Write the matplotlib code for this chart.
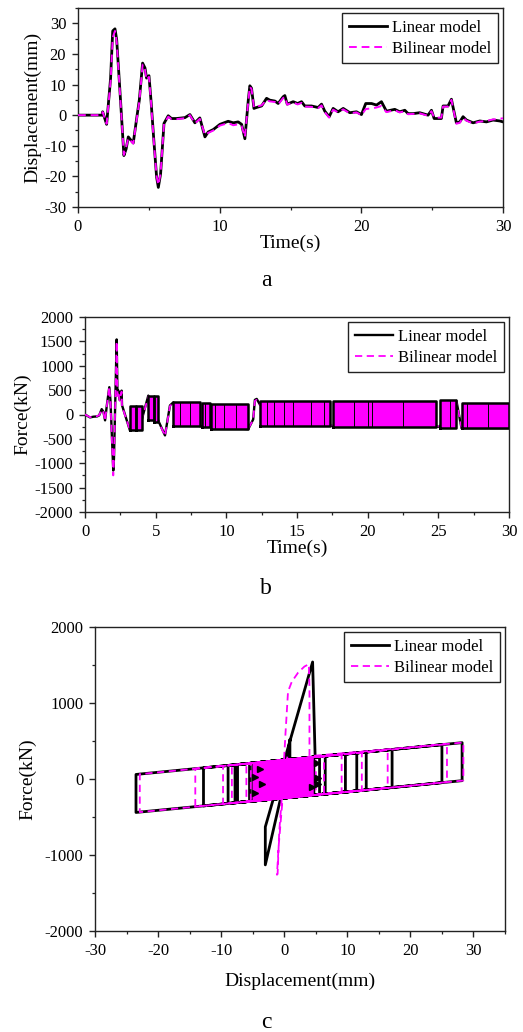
import matplotlib
matplotlib.use("Agg")
import matplotlib.pyplot as plt
from matplotlib.ticker import MultipleLocator

plt.rcParams['font.family'] = ['Liberation Serif', 'DejaVu Serif']
plt.rcParams['axes.unicode_minus'] = False

# ---------------- Panel a : displacement time history ----------------
t_a = [0, 1.7, 1.74, 2.02, 2.3, 2.45, 2.61, 2.73, 3.0, 3.24,
       3.4, 3.55, 3.74, 3.9, 4.14, 4.33, 4.56, 4.73, 4.84, 5.01,
       5.15, 5.35, 5.55, 5.67, 5.83, 6.07, 6.37, 6.6, 6.96, 7.55,
       7.9, 8.25, 8.6, 8.96, 9.19, 9.55, 10.02, 10.6, 10.96, 11.31,
       11.55, 11.78, 12.02, 12.13, 12.25, 12.42, 12.6, 12.96, 13.31, 13.54,
       13.9, 14.13, 14.48, 14.6, 14.77, 15.19, 15.5, 15.78, 16.01, 16.48,
       16.95, 17.19, 17.42, 17.73, 18.01, 18.36, 18.72, 19.19, 19.66, 20.01,
       20.31, 20.72, 21.07, 21.42, 21.77, 22.36, 22.71, 23.07, 23.3, 23.65,
       24.12, 24.71, 24.95, 25.14, 25.65, 25.77, 26.12, 26.36, 26.47, 26.71,
       26.95, 27.18, 27.42, 27.89, 28.36, 28.83, 29.3, 29.77, 30]
disp_lin = [0, 0, 1.1, -3, 12, 27.5, 28.2, 24.7, 5, -13.2,
            -11, -7.1, -8.2, -9.1, -1.1, 5, 17, 15.4, 12.1, 12.9,
            5, -8, -20.3, -23.6, -19.2, -2.7, -0.2, -1.1, -1.1, -0.8,
            0.2, -2.5, -0.9, -7.1, -5.5, -4.7, -3, -2, -2.5, -2.2,
            -3, -7.7, 4.9, 9.6, 8.8, 2.2, 2.5, 3, 5.5, 4.9,
            4.6, 3.8, 6, 6.4, 3.6, 4.4, 3.8, 4.4, 3, 3,
            2.5, 3.6, 1.3, -0.5, 2.2, 1.1, 2.2, 0.8, 1.1, 0.2,
            3.8, 3.8, 3.3, 4.4, 1.3, 1.9, 1.1, 1.6, 0.5, 0.5,
            0.8, 0, 1.6, -1.1, -1.1, 3, 3, 5.2, 2.7, -2.5,
            -2.2, -0.5, -1.6, -2.5, -1.9, -2.2, -1.6, -1.9, -2.2]
disp_bil = [0, 0, 1.0, -2.8, 11, 25.3, 27.5, 24, 4.5, -13.0,
            -10.5, -7.5, -8.5, -9.3, -1.5, 4.5, 16.5, 14.8, 11.5, 12.5,
            4.5, -8.5, -20.0, -22.8, -19.0, -2.9, -0.5, -1.3, -1.3, -1.0,
            0, -2.7, -1.2, -6.5, -5.8, -5.0, -3.4, -2.6, -3.3, -3.0,
            -3.5, -7.2, 4.5, 9.3, 8.5, 2.5, 2.8, 3.2, 5.0, 4.5,
            4.3, 3.5, 5.6, 6.0, 3.4, 4.2, 3.5, 4.0, 2.8, 2.7,
            2.3, 3.2, 1.0, -0.8, 1.8, 0.9, 1.9, 0.6, 0.9, 0.0,
            2.0, 2.2, 2.5, 3.0, 1.0, 1.6, 0.9, 1.3, 0.3, 0.4,
            0.6, -0.2, 1.3, -0.8, -0.8, 2.8, 2.8, 5.0, 2.4, -2.8,
            -2.5, -0.8, -1.8, -2.7, -2.1, -1.9, -1.4, -1.2, -1.0]

# ---------------- Panel b : force time history ----------------
t_b = [0, 0.35, 0.6, 0.85, 1.0, 1.18, 1.3, 1.42, 1.55, 1.72,
       1.8, 2.0, 2.05, 2.24, 2.3, 2.36, 2.45, 2.59, 2.62, 3.18,
       4.0, 4.48, 5.18, 5.66, 6.01, 6.25, 8.13, 8.25, 11.55, 11.9,
       12.02, 12.15, 12.38, 17.33, 17.56, 24.87, 25.1, 26.28, 26.64, 30]
force_lin = [0, -60, -45, -40, -20, 110, 60, -120, 200, 560,
             300, -1150, -900, 1540, 400, 490, 300, 490, 190, -327,
             -122, 388, -122, -429, 184, 250, -240, -240, -300, -100,
             300, 320, 200, -230, -240, -250, -250, 280, -280, -280]
force_bil = [0, -55, -40, -35, -15, 100, 50, -130, 190, 570,
             280, -1250, -950, 1500, 380, 470, 280, 470, 170, -320,
             -130, 370, -130, -440, 170, 240, -230, -230, -290, -110,
             280, 300, 190, -220, -230, -240, -240, 270, -270, -270]

# dense cycling blocks (start, end, upper, lower)
blk_t0 = [3.18, 3.6, 4.48, 4.85, 6.25, 8.25, 8.9, 12.38, 17.56, 25.1, 26.64]
blk_t1 = [3.6, 4.0, 4.85, 5.18, 8.13, 8.85, 11.55, 17.33, 24.87, 26.28, 30.0]
blk_hi = [184, 184, 388, 370, 250, 240, 220, 280, 270, 290, 240]
blk_lo = [-327, -327, -122, -150, -240, -260, -300, -230, -250, -280, -280]
inner_t = [6.7, 7.4, 8.5, 9.2, 9.8, 10.7, 12.9, 13.4, 14.1, 14.7,
           16.0, 16.9, 19.0, 20.0, 20.3, 22.5, 25.8, 27.0, 28.5]
inner_hi = [250, 250, 240, 220, 220, 220, 280, 280, 280, 280,
            280, 280, 270, 270, 270, 270, 290, 240, 240]
inner_lo = [-240, -240, -260, -300, -300, -300, -230, -230, -230, -230,
            -230, -230, -250, -250, -250, -250, -280, -280, -280]

# ---------------- Panel c : hysteresis ----------------
disp_c_lin = [0, 0.9, 0.9, -3.0, -3.0, 4.5, 4.9, 28.2, 28.2, -12.8,
              -12.8, 25.0, 25.0, -23.5, -23.5, 17.1, 17.1, -8.9, -8.9, 13.0,
              13.0, -7.8, -7.8, 11.5, 11.5, -7.4, -7.4, 9.7, 9.7, -5.5,
              -5.5, 6.5, 6.5, -5.0, -5.0, 5.6, 5.6, -4.4, -4.4, 4.7,
              4.7, -3.5, -3.5, 3.5, 3.5, 0]
force_c_lin = [0, 520, 280, -1130, -630, 1540, 290, 478, -22, -354,
               146, 452, -48, -440, 60, 389, -111, -322, 178, 355,
               -145, -313, 187, 343, -157, -310, 190, 329, -171, -295,
               205, 303, -197, -290, 210, 295, -205, -286, 214, 288,
               -212, -278, 222, 278, -222, 0]
disp_c_bil = [0, 0.5, -0.3, -0.9, -1.15, -1.05, -0.8, -0.3, 0.2, 0.6,
              1.2, 2.2, 3.2, 3.9, 4.0, 4.0, 28.4, 28.4, -14.1, -14.1,
              25.8, 25.8, -22.9, -22.9, 16.4, 16.4, -9.7, -9.7, 12.3, 12.3,
              -8.3, -8.3, 9.1, 9.1, -6.0, -6.0, 6.3, 6.3, -5.3, -5.3,
              5.0, 5.0]
force_c_bil = [0, 300, -300, -900, -1260, -1250, -700, -150, 600, 1150,
               1280, 1400, 1480, 1510, 1200, 300, 480, -20, -364, 136,
               459, -41, -436, 64, 383, -117, -329, 171, 350, -150,
               -317, 183, 324, -176, -299, 201, 301, -199, -293, 207,
               291, -209]
band_x = [-5.1, 4.6]
band_top = [209, 287]
band_bot = [-291, -213]
tri_x = [-4.6, -3.8, -3.5, -4.6, 4.4, 5.2, 5.4, 5.3]
tri_f = [22, 127, -66, -189, -101, 206, 9, -60]

MAG = '#FF00FF'
W, H = 523, 1032
fig = plt.figure(figsize=(W / 100, H / 100), dpi=100)


def ax_at(l, r, t, b):
    return fig.add_axes([l / W, 1 - b / H, (r - l) / W, (b - t) / H])


def style(ax):
    for s in ax.spines.values():
        s.set_color('#222222')
        s.set_linewidth(1.0)
    ax.tick_params(which='both', direction='out', top=False, right=False,
                   labelsize=12, color='#222222')
    ax.tick_params(which='major', length=4.5, width=1.0, pad=4)
    ax.tick_params(which='minor', length=2.5, width=0.9)


def legend(ax):
    lg = ax.legend(loc='upper right', fontsize=12, frameon=True, fancybox=False,
                   edgecolor='#222222', framealpha=1, borderaxespad=0.3,
                   handlelength=2.3, handletextpad=0.3, borderpad=0.4,
                   labelspacing=0.3)
    lg.get_frame().set_linewidth(1.0)


# ---- a ----
ax = ax_at(78, 503, 8, 207)
ax.plot(t_a, disp_lin, color='black', lw=2.0, label='Linear model', zorder=2)
ax.plot(t_a, disp_bil, color=MAG, lw=1.4, ls=(0, (4, 2.5)), label='Bilinear model', zorder=3)
ax.set_xlim(0, 30)
ax.set_ylim(-30, 35)
ax.xaxis.set_major_locator(MultipleLocator(10))
ax.xaxis.set_minor_locator(MultipleLocator(5))
ax.yaxis.set_major_locator(MultipleLocator(10))
ax.yaxis.set_minor_locator(MultipleLocator(5))
style(ax)
ax.set_xlabel('Time(s)', fontsize=14, labelpad=0)
ax.set_ylabel('Displacement(mm)', fontsize=14, labelpad=2)
legend(ax)
fig.text(266 / W, 1 - 280 / H, 'a', fontsize=17, ha='center', va='center')

# ---- b ----
ax = ax_at(85, 509, 317, 512)
ax.plot(t_b, force_lin, color='black', lw=1.7, label='Linear model', zorder=2)
ax.plot(t_b, force_bil, color=MAG, lw=1.3, ls=(0, (4, 2.5)), label='Bilinear model', zorder=3)
for t0, t1, hi, lo in zip(blk_t0, blk_t1, blk_hi, blk_lo):
    ax.fill_between([t0, t1], [lo, lo], [hi, hi], color=MAG, lw=0, zorder=3.5)
    ax.plot([t0, t0, t1, t1, t0], [lo, hi, hi, lo, lo], color='black', lw=1.8, zorder=4)
ax.vlines(inner_t, inner_lo, inner_hi, color='black', lw=0.7, zorder=4)
ax.set_xlim(0, 30)
ax.set_ylim(-2000, 2000)
ax.xaxis.set_major_locator(MultipleLocator(5))
ax.xaxis.set_minor_locator(MultipleLocator(2.5))
ax.yaxis.set_major_locator(MultipleLocator(500))
ax.yaxis.set_minor_locator(MultipleLocator(250))
style(ax)
ax.set_xlabel('Time(s)', fontsize=14, labelpad=0)
ax.set_ylabel('Force(kN)', fontsize=14, labelpad=2)
legend(ax)
fig.text(266 / W, 1 - 588 / H, 'b', fontsize=17, ha='center', va='center')

# ---- c ----
ax = ax_at(95, 505, 627, 931)
ax.plot(disp_c_lin, force_c_lin, color='black', lw=2.0, label='Linear model', zorder=2)
ax.plot(disp_c_bil, force_c_bil, color=MAG, lw=1.3, ls=(0, (4, 2.5)), label='Bilinear model', zorder=3)
ax.fill_between(band_x, band_bot, band_top, color=MAG, lw=0, zorder=3.5)
ax.plot(tri_x, tri_f, ls='none', marker='>', ms=5, color='black', zorder=4)
ax.set_xlim(-30, 35)
ax.set_ylim(-2000, 2000)
ax.xaxis.set_major_locator(MultipleLocator(10))
ax.xaxis.set_minor_locator(MultipleLocator(5))
ax.yaxis.set_major_locator(MultipleLocator(1000))
ax.yaxis.set_minor_locator(MultipleLocator(500))
style(ax)
ax.set_xlabel('Displacement(mm)', fontsize=14, labelpad=10)
ax.set_ylabel('Force(kN)', fontsize=14, labelpad=6)
legend(ax)
fig.text(266 / W, 1 - 1022 / H, 'c', fontsize=17, ha='center', va='center')

fig.savefig('out.png', dpi=100)
